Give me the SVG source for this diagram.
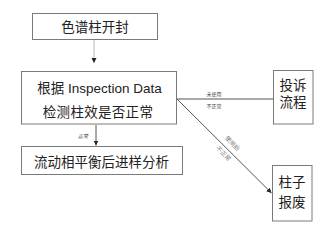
<svg xmlns="http://www.w3.org/2000/svg" width="323" height="227" viewBox="0 0 323 227">
<defs>
<style>
.box{fill:#fff;stroke:#7a7a7a;stroke-width:1}
.t{font-family:"Liberation Sans","Noto Sans CJK SC",sans-serif;font-size:13.5px;fill:#222;text-anchor:middle}
.s{font-family:"Liberation Sans","Noto Sans CJK SC",sans-serif;font-size:5px;fill:#444;text-anchor:middle}
.ln{stroke:#555;stroke-width:1;fill:none}
</style>
<marker id="ah" markerWidth="6" markerHeight="6" refX="5" refY="3" orient="auto" markerUnits="userSpaceOnUse">
<path d="M0,0.5 L5,3 L0,5.5 Z" fill="#222"/>
</marker>
</defs>
<rect width="323" height="227" fill="#fff"/>
<g id="connectors">
<line class="ln" x1="94" y1="40" x2="94" y2="63" stroke="#bbb" style="stroke:#bbb" marker-end="url(#ah)"/>
<line class="ln" x1="96" y1="125" x2="96" y2="145.5" marker-end="url(#ah)"/>
<text class="s" x="83" y="138" font-style="italic">正常</text>
<line class="ln" x1="177" y1="99" x2="273" y2="99"/>
<text class="s" x="214" y="96">未使用</text>
<text class="s" x="214" y="107.5">不正常</text>
<line class="ln" x1="177" y1="99" x2="271.5" y2="193" marker-end="url(#ah)"/>
<text class="s" x="231" y="145" font-size="6" fill="#777" transform="rotate(45 231 145)" style="font-size:6px;fill:#777">使用后</text>
<text class="s" x="222" y="155" font-size="6" fill="#777" transform="rotate(45 222 155)" style="font-size:6px;fill:#777">不正常</text>
</g>
<g id="node-open">
<rect class="box" x="32.5" y="13.5" width="125" height="26"/>
<text class="t" x="95" y="32">色谱柱开封</text>
</g>
<g id="node-check">
<rect class="box" x="21.5" y="71.5" width="155" height="52.5"/>
<text class="t" x="99.5" y="92.5">根据 Inspection Data</text>
<text class="t" x="98" y="116.5" letter-spacing="0.3">检测柱效是否正常</text>
</g>
<g id="node-analysis">
<rect class="box" x="21.5" y="146.5" width="161" height="28"/>
<text class="t" x="101.5" y="166.5">流动相平衡后进样分析</text>
</g>
<g id="node-complaint">
<rect class="box" x="273.5" y="70.5" width="39.5" height="53.5"/>
<text class="t" x="293" y="90">投诉</text>
<text class="t" x="293" y="107">流程</text>
</g>
<g id="node-scrap">
<rect class="box" x="272.5" y="165.5" width="39.5" height="55.5"/>
<text class="t" x="292" y="186.5">柱子</text>
<text class="t" x="292" y="206.5">报废</text>
</g>
</svg>
